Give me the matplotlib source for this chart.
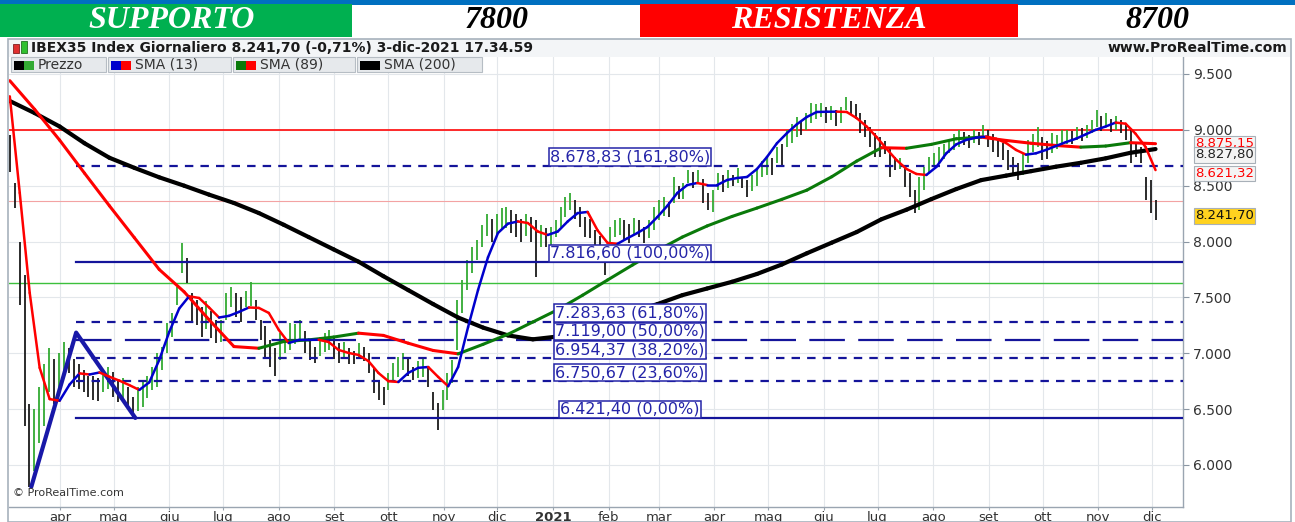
import numpy as np
import pandas as pd
import matplotlib
matplotlib.use('Agg')
import matplotlib.pyplot as plt
import matplotlib.dates as mdates
from matplotlib.collections import LineCollection
from matplotlib.patches import Rectangle
from matplotlib.transforms import blended_transform_factory

# ------------------------------------------------------------------ data
header_left = 'SUPPORTO'
header_right = 'RESISTENZA'
support_value = '7800'
resistance_value = '8700'

title_text = 'IBEX35 Index Giornaliero 8.241,70 (-0,71%) 3-dic-2021 17.34.59'
site_text = 'www.ProRealTime.com'
copyright_text = '\u00a9 ProRealTime.com'
legend_names = ['Prezzo', 'SMA (13)', 'SMA (89)', 'SMA (200)']

start_date = '2020-03-04'
end_date = '2021-12-03'

bar_high = [
    8950, 8520, 8000, 7700, 6550, 6500, 6700, 6900, 7050, 6950,
    7000, 7100, 7050, 6950, 6900, 6850, 6800, 6800, 6780, 6850, 6880,
    6830, 6760, 6780, 6700, 6610, 6700, 6760, 6800, 6880, 7000, 7060,
    7270, 7360, 7590, 7985, 7850, 7540, 7480, 7415, 7470, 7380, 7300,
    7300, 7540, 7590, 7540, 7500, 7560, 7640, 7480, 7300, 7240, 7120, 7050,
    7180, 7150, 7270, 7260, 7300, 7200, 7120, 7055, 7150, 7180, 7210,
    7150, 7090, 7100, 7050, 7020, 7090, 7060, 7000, 6880, 6760, 6700,
    6820, 6915, 6967, 7003, 6950, 6877, 6930, 6960, 6877, 6650, 6555,
    6670, 6824, 6940, 7477, 7656, 7835, 7952, 8014, 8150, 8250, 8200,
    8250, 8300, 8310, 8280, 8250, 8200, 8250, 8220, 8190, 8150, 8120, 8130,
    8190, 8310, 8400, 8435, 8370, 8310, 8220, 8200, 8104, 8050, 7925,
    8130, 8190, 8210, 8190, 8160, 8210, 8190, 8130, 8190, 8310,
    8372, 8400, 8350, 8580, 8500, 8520, 8640, 8620, 8640, 8560, 8435, 8460,
    8614, 8600, 8640, 8600, 8660, 8580, 8550, 8600, 8640, 8720, 8757,
    8750, 8850, 8870, 9000, 9050, 9115, 9070, 9150, 9240, 9230, 9240,
    9200, 9210, 9180, 9200, 9294, 9260, 9230, 9150, 9090, 9025, 8970,
    8936, 8900, 8850, 8760, 8750, 8667, 8614, 8460, 8578, 8667, 8757,
    8793, 8850, 8870, 8910, 8960, 9000, 8980, 8950, 9000, 8980, 9045,
    9000, 8960, 8910, 8880, 8820, 8757, 8705, 8780, 8910, 8960, 9025,
    8936, 8900, 8970, 8950, 9000, 9000, 8990, 9025, 9020, 9040, 9090,
    9180, 9120, 9150, 9100, 9120, 9090, 9060, 9000, 8880, 8850, 8580,
    8550, 8372,
]

bar_low = [
    8620, 8300, 7430, 6350, 5800, 5950, 6200, 6350, 6650, 6550,
    6650, 6780, 6820, 6700, 6680, 6650, 6610, 6580, 6570, 6650, 6680,
    6610, 6560, 6600, 6520, 6420, 6480, 6520, 6600, 6670, 6700, 6850,
    7000, 7150, 7430, 7720, 7630, 7270, 7250, 7146, 7220, 7140, 7090,
    7100, 7300, 7415, 7325, 7280, 7415, 7420, 7300, 7120, 6970, 6880, 6800,
    6940, 7000, 7030, 7080, 7120, 7000, 6940, 6915, 6980, 7010, 7030,
    6950, 6915, 6950, 6900, 6900, 6967, 6930, 6824, 6645, 6580, 6540,
    6670, 6760, 6790, 6850, 6800, 6760, 6780, 6790, 6700, 6490, 6310,
    6490, 6580, 6735, 7030, 7360, 7567, 7720, 7835, 7950, 8050, 8000,
    8050, 8100, 8120, 8080, 8040, 8000, 8050, 8000, 7680, 7950, 7950, 7960,
    8040, 8130, 8220, 8283, 8200, 8130, 8040, 8030, 7925, 7880, 7700,
    7990, 8040, 8060, 8014, 7990, 8060, 8040, 7990, 8030, 8104,
    8193, 8230, 8220, 8345, 8380, 8380, 8524, 8480, 8524, 8345, 8283, 8265,
    8460, 8440, 8480, 8500, 8520, 8480, 8400, 8450, 8500, 8580, 8600,
    8600, 8700, 8667, 8850, 8880, 8936, 8950, 9000, 9060, 9100, 9115,
    9060, 9090, 9030, 9060, 9178, 9140, 9100, 8970, 8936, 8850, 8757,
    8757, 8780, 8578, 8640, 8650, 8490, 8400, 8255, 8283, 8460, 8614,
    8667, 8705, 8740, 8793, 8820, 8850, 8860, 8840, 8882, 8860, 8936,
    8850, 8800, 8757, 8730, 8640, 8614, 8550, 8600, 8705, 8800, 8850,
    8730, 8740, 8793, 8830, 8850, 8870, 8870, 8910, 8900, 8930, 8970,
    9025, 8990, 9025, 8980, 9000, 8970, 8910, 8705, 8760, 8705, 8372,
    8255, 8193,
]

sma13 = [
    9300, 8435, 7540, 6870, 6590, 6575, 6720, 6820, 6810, 6828,
    6790, 6755, 6715, 6672, 6740, 6940, 7190, 7400, 7510, 7495,
    7410, 7320, 7335, 7370, 7410, 7406, 7361, 7209, 7092, 7119,
    7120, 7121, 7101, 7030, 7003, 6985, 6930, 6824, 6750, 6743,
    6825, 6870, 6877, 6788, 6705, 6877, 7235, 7567, 7860, 8077,
    8160, 8180, 8166, 8090, 8059, 8090, 8180, 8255, 8265, 8100,
    7988, 7980, 8030, 8077, 8130, 8220, 8320, 8435, 8506, 8524,
    8506, 8506, 8551, 8569, 8578, 8650, 8757, 8880, 8970, 9050,
    9115, 9160, 9162, 9163, 9160, 9105, 9030, 8936, 8830, 8730,
    8650, 8605, 8596, 8668, 8790, 8870, 8910, 8930, 8940, 8920,
    8882, 8820, 8778, 8790, 8820, 8855, 8890, 8920, 8960, 9000,
    9030, 9065, 9055, 8965, 8847, 8640,
]

sma89 = [
    9440, 9183, 8908, 8612, 8320, 8035, 7750, 7550, 7300, 7060,
    7045, 7105, 7120, 7145, 7180, 7160, 7090, 7025, 6995, 7080,
    7170, 7280, 7390, 7520, 7656, 7790, 7920, 8040, 8140, 8225,
    8300, 8378, 8460, 8580, 8720, 8840, 8835, 8870, 8920, 8935,
    8905, 8880, 8860, 8845, 8855, 8885, 8876,
]

sma200 = [
    9258, 9150, 9030, 8880, 8750, 8660, 8575, 8500, 8420, 8345,
    8255, 8150, 8040, 7930, 7820, 7690, 7565, 7440, 7320, 7230,
    7160, 7125, 7150, 7210, 7280, 7370, 7440, 7520, 7580, 7640,
    7710, 7795, 7895, 7990, 8085, 8200, 8285, 8380, 8470, 8550,
    8590, 8630, 8670, 8705, 8745, 8795, 8828,
]

last_price = 8241.70
last_sma13 = 8621.32
last_sma89 = 8875.15
last_sma200 = 8827.80

fib_base = 6421.40
fib_top = 7816.60
fib_ratios = [1.618, 1.0, 0.618, 0.5, 0.382, 0.236, 0.0]

zigzag_dates = ['2020-03-16', '2020-04-10', '2020-05-13']
zigzag_values = [5805, 7185, 6421.40]

line_red = 8995
line_green = 7630
line_pink = 8365

month_labels = ['apr', 'mag', 'giu', 'lug', 'ago', 'set', 'ott', 'nov', 'dic',
                '2021', 'feb', 'mar', 'apr', 'mag', 'giu', 'lug', 'ago', 'set',
                'ott', 'nov', 'dic']
y_ticks = [6000, 6500, 7000, 7500, 8000, 8500, 9000, 9500]

# ------------------------------------------------------------------ helpers
W, H = 1295, 522
fig = plt.figure(figsize=(W / 100, H / 100), dpi=100)
fig.patch.set_facecolor('white')


def fx(p):
    return p / W


def fy(p):
    return 1 - p / H


def frect(x0, y0, x1, y1, **kw):
    r = Rectangle((fx(x0), fy(y1)), fx(x1) - fx(x0), fy(y0) - fy(y1),
                  transform=fig.transFigure, **kw)
    fig.add_artist(r)
    return r


def px2date(px):
    return pd.Timestamp('2020-04-01') + pd.Timedelta(days=(px - 60) / 1.793)


def it_num(v, dec=2):
    s = f'{v:,.{dec}f}'
    return s.replace(',', 'X').replace('.', ',').replace('X', '.')


NAVY = '#14149A'
BLUE = '#0000CC'
RED = '#FF0000'
DGREEN = '#0A7A0A'
BGREEN = '#33AA33'

# ------------------------------------------------------------------ header
frect(0, 0, 1295, 4.5, fc='#0070C0', ec='none')
frect(0, 4.5, 352, 37, fc='#00B050', ec='none')
frect(640, 4.5, 1018, 37, fc='#FF0000', ec='none')
hfont = dict(family='Liberation Serif', weight='bold', style='italic', fontsize=23,
             ha='center', va='center')
fig.text(fx(172), fy(21), header_left, color='white', **hfont)
fig.text(fx(497), fy(21), support_value, color='black', **hfont)
fig.text(fx(829), fy(21), header_right, color='white', **hfont)
fig.text(fx(1157), fy(21), resistance_value, color='black', **hfont)

# ------------------------------------------------------------------ axes
ax = fig.add_axes([fx(9), fy(507), fx(1183) - fx(9), fy(57) - fy(507)])
ax.set_facecolor('white')
ax.set_ylim(5624, 9652)
ax.set_xlim(px2date(9), px2date(1183))

month_dates = pd.date_range('2020-04-01', '2021-12-01', freq='MS')
ax.set_xticks(month_dates)
ax.set_xticklabels(month_labels)
for lab in ax.get_xticklabels():
    lab.set_fontsize(9.5)
    lab.set_color('#333333')
    if lab.get_text() == '2021':
        lab.set_fontweight('bold')
ax.tick_params(axis='x', length=2.5, color='#9AA4AE', pad=0.5)

ax.yaxis.tick_right()
ax.set_yticks(y_ticks)
ax.set_yticklabels([it_num(v, 0) for v in y_ticks])
ax.tick_params(axis='y', length=4, color='#8A96A3', labelsize=10,
               labelcolor='#333333', pad=3)

ax.grid(True, color='#E3E7EB', lw=0.8)
ax.set_axisbelow(True)
for s in ['top', 'left']:
    ax.spines[s].set_visible(False)
for s in ['right', 'bottom']:
    ax.spines[s].set_color('#9AA5B1')
    ax.spines[s].set_linewidth(1.0)

# horizontal reference lines
ax.axhline(line_red, color='#FF1A1A', lw=1.3, zorder=2)
ax.axhline(line_green, color='#3CC03C', lw=1.0, zorder=2)
ax.axhline(line_pink, color='#F3A3A3', lw=0.8, zorder=2)

# price bars
n = min(len(bar_high), len(bar_low))
bdates = pd.date_range(start_date, end_date, periods=n)
highs = np.array(bar_high[:n], dtype=float)
lows = np.array(bar_low[:n], dtype=float)
mids = (highs + lows) / 2
bcols = ['#1A1A1A'] + [BGREEN if mids[i] >= mids[i - 1] else '#1A1A1A' for i in range(1, n)]
ax.vlines(bdates, lows, highs, colors=bcols, lw=1.3, zorder=3)

# fibonacci levels
fib_start = pd.Timestamp(zigzag_dates[1])
fib_end = px2date(1183)
label_x = px2date(630)
for r in fib_ratios:
    lvl = fib_base + r * (fib_top - fib_base)
    if r in (1.0, 0.0):
        ls = dict(linestyle='-')
    elif r == 0.5:
        ls = dict(linestyle=(0, (16, 6)))
    else:
        ls = dict(linestyle=(0, (3.8, 3.2)))
    ax.plot([fib_start, fib_end], [lvl, lvl], color=NAVY, lw=1.6, zorder=4, **ls)
    txt = f'{it_num(lvl)} ({it_num(r * 100)}%)'
    ax.text(label_x, lvl + 10, txt, ha='center', va='bottom', fontsize=11.5,
            color='#2424A8', zorder=8,
            bbox=dict(boxstyle='square,pad=0.08', fc='white', ec='#2424A8', lw=1.1))

# zigzag
ax.plot(pd.to_datetime(zigzag_dates), zigzag_values, color='#1818A8', lw=3.0,
        zorder=5, solid_capstyle='round')


def slope_line(vals, up, down, lw, z):
    d = pd.date_range(start_date, end_date, periods=len(vals))
    x = mdates.date2num(d)
    pts = np.column_stack([x, np.array(vals, dtype=float)])
    segs = np.stack([pts[:-1], pts[1:]], axis=1)
    cols = [up if b >= a else down for a, b in zip(vals[:-1], vals[1:])]
    lc = LineCollection(segs, colors=cols, linewidths=lw, zorder=z,
                        capstyle='round', joinstyle='round')
    ax.add_collection(lc)


slope_line(sma200, '#000000', '#000000', 3.0, 6)
slope_line(sma89, DGREEN, RED, 2.2, 6.5)
slope_line(sma13, BLUE, RED, 1.8, 7)

# right-hand value labels
tr = blended_transform_factory(ax.transAxes, ax.transData)
xlab = (1195 - 9) / (1183 - 9)
val_labels = [
    (last_sma89 + 4, it_num(last_sma89), RED, '#F4F4F4'),
    (last_sma200 - 52, it_num(last_sma200), '#222222', '#F4F4F4'),
    (last_sma13 - 12, it_num(last_sma13), RED, '#F4F4F4'),
    (last_price - 12, it_num(last_price), '#111111', '#FFD21F'),
]
for yv, t, c, bg in val_labels:
    ax.text(xlab, yv, t, transform=tr, ha='left', va='center', fontsize=9.5,
            color=c, clip_on=False, zorder=9,
            bbox=dict(boxstyle='square,pad=0.1', fc=bg, ec='#A8B0B8', lw=0.8))

ax.text(0.003, 0.02, copyright_text, transform=ax.transAxes, fontsize=8,
        color='#333333', ha='left', va='bottom', zorder=9)

# ------------------------------------------------------------------ panel chrome
frect(9, 39, 1290, 56.5, fc='#F3F5F7', ec='none')
fig.text(fx(31), fy(48), title_text, fontsize=10, weight='bold', va='center',
         ha='left', color='#1A1A1A')
fig.text(fx(1287), fy(48), site_text, fontsize=10, weight='bold', va='center',
         ha='right', color='#1A1A1A')
# small candle icon
frect(13, 44, 19, 53, fc='#E03030', ec='#802020', lw=0.6)
frect(21, 41, 27, 53, fc='#30C030', ec='#207020', lw=0.6)

# legend row
items = [(11, 106), (108, 231), (233, 355), (357, 482)]
icons = [('#000000', BGREEN), (BLUE, RED), (DGREEN, RED), ('#000000', '#000000')]
for (x0, x1), (c1, c2), name in zip(items, icons, legend_names):
    frect(x0, 57.5, x1, 72, fc='#E6E9EC', ec='#B6BDC4', lw=0.8)
    frect(x0 + 3, 61, x0 + 13, 69.5, fc=c1, ec='none')
    frect(x0 + 13, 61, x0 + 23, 69.5, fc=c2, ec='none')
    fig.text(fx(x0 + 27), fy(65), name, fontsize=10, va='center', ha='left',
             color='#333333')

# outer panel border
frect(8, 38.5, 1291, 521.5, fill=False, ec='#A7B1BC', lw=1.2)

fig.savefig('out.png', dpi=100, facecolor='white')
